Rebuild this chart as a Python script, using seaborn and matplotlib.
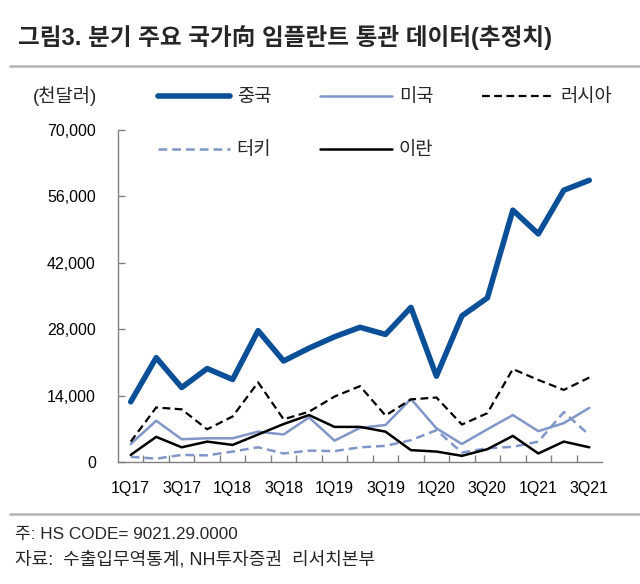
import numpy as np
import pandas as pd
import matplotlib
matplotlib.use("Agg")
import matplotlib.pyplot as plt
from matplotlib.lines import Line2D
from matplotlib.ticker import FuncFormatter, FixedLocator
import seaborn as sns

# 분기 (1Q17 ~ 3Q21)
quarters = ['1Q17', '2Q17', '3Q17', '4Q17', '1Q18', '2Q18', '3Q18', '4Q18',
            '1Q19', '2Q19', '3Q19', '4Q19', '1Q20', '2Q20', '3Q20', '4Q20',
            '1Q21', '2Q21', '3Q21']

# 통관 데이터 (천달러, 그림에서 읽은 추정치)
china = [12700, 22000, 15700, 19700, 17400, 27700, 21300, 24000, 26400, 28400,
         26900, 32600, 18100, 30800, 34600, 53100, 48100, 57300, 59400]
usa = [3800, 8700, 4800, 5000, 5000, 6400, 5800, 9400, 4500, 7200,
       7800, 13300, 7100, 3800, 6900, 9900, 6500, 8200, 11400]
russia = [4300, 11500, 11100, 6900, 9600, 16800, 9000, 10600, 13800, 16000,
          9800, 13200, 13600, 7900, 10300, 19600, 17300, 15200, 17800]
turkey = [1100, 700, 1500, 1400, 2200, 3100, 1800, 2400, 2300, 3100,
          3400, 4600, 6700, 2000, 2900, 3200, 4300, 10500, 5700]
iran = [1500, 5300, 3100, 4300, 3600, 5800, 8000, 9900, 7400, 7400,
        6400, 2500, 2200, 1300, 2700, 5500, 1800, 4300, 3100]

sns.set_theme(style="white")
plt.rcParams['font.family'] = ['Liberation Sans', 'Noto Sans CJK KR', 'DejaVu Sans']
plt.rcParams['axes.unicode_minus'] = False

fig = plt.figure(figsize=(6.4, 5.84), dpi=100)
ax = fig.add_axes([118 / 640, 1 - 462 / 584, 484 / 640, 332 / 584])

x = np.arange(len(quarters))
dark_blue = '#0a4f97'
light_blue = '#8096c8'

sns.lineplot(x=x, y=china, ax=ax, color=dark_blue, linewidth=4.0, label='중국')
sns.lineplot(x=x, y=usa, ax=ax, color=light_blue, linewidth=1.8, label='미국')
sns.lineplot(x=x, y=russia, ax=ax, color='black', linewidth=1.6, linestyle=(0, (3.5, 2)), label='러시아')
sns.lineplot(x=x, y=turkey, ax=ax, color=light_blue, linewidth=1.8, linestyle=(0, (3.5, 2)), label='터키')
sns.lineplot(x=x, y=iran, ax=ax, color='black', linewidth=1.8, label='이란')

ax.set_xlim(-0.5, len(quarters) - 0.5)
ax.set_ylim(0, 70000)
ax.set_xlabel('')
ax.set_ylabel('')

ax.set_yticks(np.arange(0, 70001, 14000))
ax.yaxis.set_major_formatter(FuncFormatter(lambda v, p: f'{int(v):,}'))
ax.set_xticks(x[::2])
ax.set_xticklabels(quarters[::2])
ax.xaxis.set_minor_locator(FixedLocator(np.arange(0.5, len(quarters) - 1, 1)))

ax.tick_params(axis='y', direction='in', length=5, width=1, color='#808080',
               pad=16, labelsize=11.5, labelcolor='black', left=True)
ax.tick_params(axis='x', which='major', length=0, pad=14, labelsize=11.5, labelcolor='black')
ax.tick_params(axis='x', which='minor', direction='in', length=5, width=1,
               color='#808080', bottom=True)

for side in ['top', 'right']:
    ax.spines[side].set_visible(False)
for side in ['left', 'bottom']:
    ax.spines[side].set_color('#808080')
    ax.spines[side].set_linewidth(1.0)

# 범례: 1행 중국/미국/러시아, 2행 터키/이란
handles, labels = ax.get_legend_handles_labels()
hmap = dict(zip(labels, handles))
order = ['중국', '터키', '미국', '이란', '러시아']
ax.get_legend().remove()
fig.legend([hmap[k] for k in order], order, ncol=3, frameon=False,
           loc='upper left', bbox_to_anchor=(158 / 640, 1 - 89 / 584),
           fontsize=13.5, handlelength=3.85, handletextpad=0.35,
           columnspacing=2.6, labelspacing=1.92, borderpad=0, borderaxespad=0)

fig.text(33 / 640, 1 - 96 / 584, '(천달러)', fontsize=13.5, va='center', ha='left')

fig.text(18 / 640, 1 - 38 / 584, '그림3. 분기 주요 국가向 임플란트 통관 데이터(추정치)',
         fontsize=17, fontweight='bold', va='center', ha='left')
fig.add_artist(Line2D([10 / 640, 1], [1 - 66 / 584, 1 - 66 / 584], color='#b4b4b4', linewidth=1.8))
fig.add_artist(Line2D([10 / 640, 1], [1 - 514 / 584, 1 - 514 / 584], color='#b4b4b4', linewidth=1.8))

fig.text(15 / 640, 1 - 535 / 584, '주: HS CODE= 9021.29.0000', fontsize=12.3, va='center', ha='left')
fig.text(15 / 640, 1 - 560 / 584, '자료:  수출입무역통계, NH투자증권  리서치본부', fontsize=13, va='center', ha='left')

fig.savefig('out.png', dpi=100)
